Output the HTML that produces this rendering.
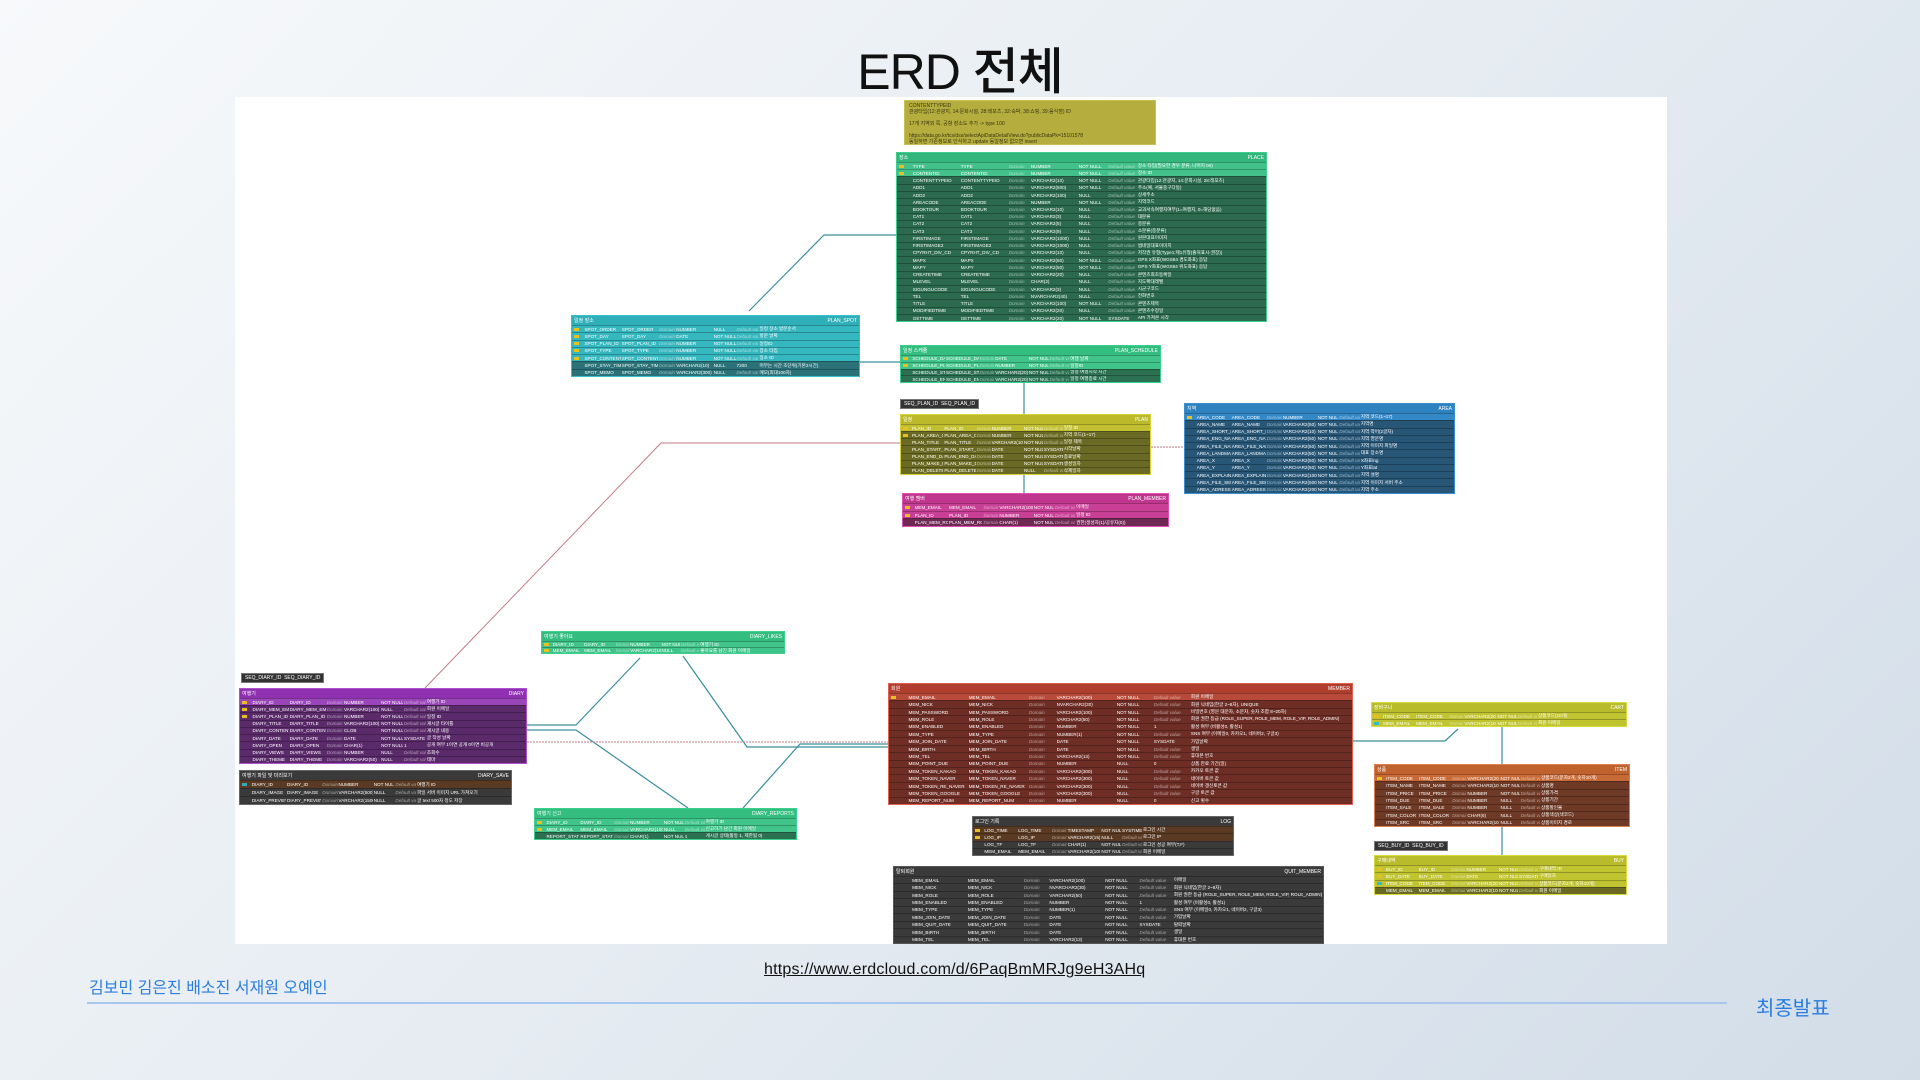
<!DOCTYPE html>
<html><head><meta charset="utf-8">
<style>
*{margin:0;padding:0;box-sizing:border-box}
body{width:1920px;height:1080px;overflow:hidden;position:relative;background:linear-gradient(135deg,#f7f9fb 0%,#e6ecf2 50%,#d2dde8 100%);font-family:"Liberation Sans","Noto Sans CJK KR",sans-serif}
#cv{position:absolute;left:235px;top:97px;width:1432px;height:847px;background:#fff}
.t{position:absolute;display:flex;flex-direction:column;border:1.5px solid;color:#fff;font-size:4.6px;overflow:hidden}
.h{height:9px;display:flex;justify-content:space-between;align-items:center;padding:0 2px;font-size:5px;flex:none}
.r{flex:1;display:grid;grid-template-columns:4% 13% 13% 6% 13% 8% 8% 35%;align-items:center;border-top:1px solid rgba(0,0,0,.25);white-space:nowrap;overflow:hidden}
.r>*{overflow:hidden;padding-left:1px;font-style:normal;font-weight:normal}
.r em{opacity:.5;font-style:italic}
.r i{display:block;width:5px;height:3px;background:#e8c020;margin-left:2px}
.r.n i{background:none}
svg{position:absolute;left:0;top:0}
.lbl{position:absolute;background:#333;color:#fff;font-size:5px;padding:1px 3px;border:1px solid #777}
</style></head><body>
<div id="cv"></div>
<div style="position:absolute;left:0;width:1920px;top:32px;text-align:center;font-size:50px;font-weight:500;color:#111;font-family:'Liberation Sans','Noto Sans CJK KR',sans-serif;letter-spacing:-1px">ERD 전체</div>

<svg width="1920" height="1080" fill="none" stroke-width="1.2">
<g stroke="#3a8f9c">
<polyline points="896,235 824,235 749,311"/>
<polyline points="860,362 900,362"/>
<polyline points="1024,383 1024,414"/>
<polyline points="1024,475 1024,493"/>
<polyline points="527,725 576,725 640,658"/>
<polyline points="527,730 576,730 688,808"/>
<polyline points="683,656 747,747 888,747"/>
<polyline points="743,808 800,744 888,744"/>
<polyline points="1353,741 1445,741 1458,729"/>
<polyline points="1502,727 1502,764"/>
<polyline points="1502,827 1502,855"/>
</g>
<g stroke="#c47a86" stroke-width="1">
<polyline points="900,443 661,443 425,688"/>
<polyline points="1151,447 1184,447" stroke-dasharray="2,1"/>
<polyline points="527,742 888,742" stroke-dasharray="2,1"/>
</g>
</svg>

<div style="position:absolute;left:904px;top:100px;width:252px;height:45px;background:#b5ad3e;border:1px solid #c9c050;color:#3a3510;font-size:5px;line-height:6px;padding:2px 4px">CONTENTTYPEID<br>관광타입(12:관광지, 14:문화시설, 28:레포츠, 32:숙박, 38:쇼핑, 39:음식점) ID<br><br>17개 지역외 쪽, 공항 장소도 추가 -&gt; type 100<br><br>https://data.go.kr/tcs/dss/selectApiDataDetailView.do?publicDataPk=15101578<br>동일하면 기존정보로 인식하고 update 동일정보 없으면 insert</div>

<!-- PLACE -->
<div class="t" style="left:896px;top:152px;width:371px;height:170px;border-color:#3dcf8e;background:#2b6a4d">
<div class="h" style="background:#34b57c"><span>장소</span><span>PLACE</span></div>
<div class="r" style="background:#42c28a"><i></i><b>TYPE</b><b>TYPE</b><em>Domain</em><b>NUMBER</b><b>NOT NULL</b><em>Default value</em><b>장소 타입(필요한 경우 분류, 나머지 00)</b></div>
<div class="r" style="background:#42c28a"><i></i><b>CONTENTID</b><b>CONTENTID</b><em>Domain</em><b>NUMBER</b><b>NOT NULL</b><em>Default value</em><b>장소 ID</b></div>
<div class="r n"><i></i><b>CONTENTTYPEID</b><b>CONTENTTYPEID</b><em>Domain</em><b>VARCHAR2(10)</b><b>NOT NULL</b><em>Default value</em><b>관광타입(12:관광지, 14:문화시설, 28:레포츠)</b></div>
<div class="r n"><i></i><b>ADD1</b><b>ADD1</b><em>Domain</em><b>VARCHAR2(500)</b><b>NOT NULL</b><em>Default value</em><b>주소(예, 서울중구다동)</b></div>
<div class="r n"><i></i><b>ADD2</b><b>ADD2</b><em>Domain</em><b>VARCHAR2(100)</b><b>NULL</b><em>Default value</em><b>상세주소</b></div>
<div class="r n"><i></i><b>AREACODE</b><b>AREACODE</b><em>Domain</em><b>NUMBER</b><b>NOT NULL</b><em>Default value</em><b>지역코드</b></div>
<div class="r n"><i></i><b>BOOKTOUR</b><b>BOOKTOUR</b><em>Domain</em><b>VARCHAR2(10)</b><b>NULL</b><em>Default value</em><b>교과서속여행지여부(1=여행지, 0=해당없음)</b></div>
<div class="r n"><i></i><b>CAT1</b><b>CAT1</b><em>Domain</em><b>VARCHAR2(3)</b><b>NULL</b><em>Default value</em><b>대분류</b></div>
<div class="r n"><i></i><b>CAT2</b><b>CAT2</b><em>Domain</em><b>VARCHAR2(5)</b><b>NULL</b><em>Default value</em><b>중분류</b></div>
<div class="r n"><i></i><b>CAT3</b><b>CAT3</b><em>Domain</em><b>VARCHAR2(9)</b><b>NULL</b><em>Default value</em><b>소분류(중분류)</b></div>
<div class="r n"><i></i><b>FIRSTIMAGE</b><b>FIRSTIMAGE</b><em>Domain</em><b>VARCHAR2(1000)</b><b>NULL</b><em>Default value</em><b>원본대표이미지</b></div>
<div class="r n"><i></i><b>FIRSTIMAGE2</b><b>FIRSTIMAGE2</b><em>Domain</em><b>VARCHAR2(1000)</b><b>NULL</b><em>Default value</em><b>썸네일대표이미지</b></div>
<div class="r n"><i></i><b>CPYRHT_DIV_CD</b><b>CPYRHT_DIV_CD</b><em>Domain</em><b>VARCHAR2(10)</b><b>NULL</b><em>Default value</em><b>저작권 유형(Type1:제1유형(출처표시-권장))</b></div>
<div class="r n"><i></i><b>MAPX</b><b>MAPX</b><em>Domain</em><b>VARCHAR2(50)</b><b>NOT NULL</b><em>Default value</em><b>GPS X좌표(WGS84 경도좌표) 응답</b></div>
<div class="r n"><i></i><b>MAPY</b><b>MAPY</b><em>Domain</em><b>VARCHAR2(50)</b><b>NOT NULL</b><em>Default value</em><b>GPS Y좌표(WGS84 위도좌표) 응답</b></div>
<div class="r n"><i></i><b>CREATETIME</b><b>CREATETIME</b><em>Domain</em><b>VARCHAR2(20)</b><b>NULL</b><em>Default value</em><b>콘텐츠최초등록일</b></div>
<div class="r n"><i></i><b>MLEVEL</b><b>MLEVEL</b><em>Domain</em><b>CHAR(2)</b><b>NULL</b><em>Default value</em><b>지도확대레벨</b></div>
<div class="r n"><i></i><b>SIGUNGUCODE</b><b>SIGUNGUCODE</b><em>Domain</em><b>VARCHAR2(3)</b><b>NULL</b><em>Default value</em><b>시군구코드</b></div>
<div class="r n"><i></i><b>TEL</b><b>TEL</b><em>Domain</em><b>NVARCHAR2(40)</b><b>NULL</b><em>Default value</em><b>전화번호</b></div>
<div class="r n"><i></i><b>TITLE</b><b>TITLE</b><em>Domain</em><b>VARCHAR2(100)</b><b>NOT NULL</b><em>Default value</em><b>콘텐츠제목</b></div>
<div class="r n"><i></i><b>MODIFIEDTIME</b><b>MODIFIEDTIME</b><em>Domain</em><b>VARCHAR2(20)</b><b>NULL</b><em>Default value</em><b>콘텐츠수정일</b></div>
<div class="r n"><i></i><b>GETTIME</b><b>GETTIME</b><em>Domain</em><b>VARCHAR2(20)</b><b>NOT NULL</b><b>SYSDATE</b><b>API 가져온 시각</b></div>
</div>

<!-- PLAN_SPOT -->
<div class="t" style="left:571px;top:315px;width:289px;height:62px;border-color:#36c0c8;background:#2a7278">
<div class="h" style="background:#2fb0b8"><span>일정 장소</span><span>PLAN_SPOT</span></div>
<div class="r" style="background:#35b7bf"><i></i><b>SPOT_ORDER</b><b>SPOT_ORDER</b><em>Domain</em><b>NUMBER</b><b>NULL</b><em>Default value</em><b>일정 장소 방문순서</b></div>
<div class="r" style="background:#35b7bf"><i></i><b>SPOT_DAY</b><b>SPOT_DAY</b><em>Domain</em><b>DATE</b><b>NOT NULL</b><em>Default value</em><b>방문 날짜</b></div>
<div class="r" style="background:#35b7bf"><i></i><b>SPOT_PLAN_ID</b><b>SPOT_PLAN_ID</b><em>Domain</em><b>NUMBER</b><b>NOT NULL</b><em>Default value</em><b>일정ID</b></div>
<div class="r" style="background:#35b7bf"><i></i><b>SPOT_TYPE</b><b>SPOT_TYPE</b><em>Domain</em><b>NUMBER</b><b>NOT NULL</b><em>Default value</em><b>장소 타입</b></div>
<div class="r" style="background:#35b7bf"><i></i><b>SPOT_CONTENTID</b><b>SPOT_CONTENTID</b><em>Domain</em><b>NUMBER</b><b>NOT NULL</b><em>Default value</em><b>장소 ID</b></div>
<div class="r n"><i></i><b>SPOT_STAY_TIME</b><b>SPOT_STAY_TIME</b><em>Domain</em><b>VARCHAR2(10)</b><b>NULL</b><b>7200</b><b>머무는 시간 초단위(기본2시간)</b></div>
<div class="r n"><i></i><b>SPOT_MEMO</b><b>SPOT_MEMO</b><em>Domain</em><b>VARCHAR2(300)</b><b>NULL</b><em>Default value</em><b>메모(최대100자)</b></div>
</div>

<!-- PLAN_SCHEDULE -->
<div class="t" style="left:900px;top:345px;width:261px;height:38px;border-color:#3dcf8e;background:#2b7050">
<div class="h" style="background:#33bd7f"><span>일정 스케쥴</span><span>PLAN_SCHEDULE</span></div>
<div class="r" style="background:#40c48a"><i></i><b>SCHEDULE_DAY</b><b>SCHEDULE_DAY</b><em>Domain</em><b>DATE</b><b>NOT NULL</b><em>Default value</em><b>여행 날짜</b></div>
<div class="r" style="background:#40c48a"><i></i><b>SCHEDULE_PLAN_ID</b><b>SCHEDULE_PLAN_ID</b><em>Domain</em><b>NUMBER</b><b>NOT NULL</b><em>Default value</em><b>일정ID</b></div>
<div class="r n"><i></i><b>SCHEDULE_START</b><b>SCHEDULE_START</b><em>Domain</em><b>VARCHAR2(20)</b><b>NOT NULL</b><em>Default value</em><b>일정 여행시작 시간</b></div>
<div class="r n"><i></i><b>SCHEDULE_END</b><b>SCHEDULE_END</b><em>Domain</em><b>VARCHAR2(20)</b><b>NOT NULL</b><em>Default value</em><b>일정 여행종료 시간</b></div>
</div>

<div class="lbl" style="left:900px;top:399px">SEQ_PLAN_ID &nbsp;SEQ_PLAN_ID</div>

<!-- PLAN -->
<div class="t" style="left:900px;top:414px;width:251px;height:61px;border-color:#d6d43a;background:#6b6a24">
<div class="h" style="background:#bcb92a"><span>일정</span><span>PLAN</span></div>
<div class="r" style="background:#c2c030"><i></i><b>PLAN_ID</b><b>PLAN_ID</b><em>Domain</em><b>NUMBER</b><b>NOT NULL</b><em>Default value</em><b>일정 ID</b></div>
<div class="r"><i></i><b>PLAN_AREA_CODE</b><b>PLAN_AREA_CODE</b><em>Domain</em><b>NUMBER</b><b>NOT NULL</b><em>Default value</em><b>지역 코드(1~17)</b></div>
<div class="r n"><i></i><b>PLAN_TITLE</b><b>PLAN_TITLE</b><em>Domain</em><b>VARCHAR2(100)</b><b>NOT NULL</b><em>Default value</em><b>일정 제목</b></div>
<div class="r n"><i></i><b>PLAN_START_DAY</b><b>PLAN_START_DAY</b><em>Domain</em><b>DATE</b><b>NOT NULL</b><b>SYSDATE</b><b>시작날짜</b></div>
<div class="r n"><i></i><b>PLAN_END_DAY</b><b>PLAN_END_DAY</b><em>Domain</em><b>DATE</b><b>NOT NULL</b><b>SYSDATE</b><b>종료날짜</b></div>
<div class="r n"><i></i><b>PLAN_MAKE_DAY</b><b>PLAN_MAKE_DAY</b><em>Domain</em><b>DATE</b><b>NOT NULL</b><b>SYSDATE</b><b>생성일자</b></div>
<div class="r n"><i></i><b>PLAN_DELETE_DAY</b><b>PLAN_DELETE_DAY</b><em>Domain</em><b>DATE</b><b>NULL</b><em>Default value</em><b>삭제일자</b></div>
</div>

<!-- AREA -->
<div class="t" style="left:1184px;top:403px;width:271px;height:91px;border-color:#3a8fd0;background:#275677">
<div class="h" style="background:#2f82c0"><span>지역</span><span>AREA</span></div>
<div class="r" style="background:#3588c6"><i></i><b>AREA_CODE</b><b>AREA_CODE</b><em>Domain</em><b>NUMBER</b><b>NOT NULL</b><em>Default value</em><b>지역 코드(1~17)</b></div>
<div class="r n"><i></i><b>AREA_NAME</b><b>AREA_NAME</b><em>Domain</em><b>VARCHAR2(50)</b><b>NOT NULL</b><em>Default value</em><b>지역명</b></div>
<div class="r n"><i></i><b>AREA_SHORT_NAME</b><b>AREA_SHORT_NAME</b><em>Domain</em><b>VARCHAR2(10)</b><b>NOT NULL</b><em>Default value</em><b>지역 약어(2글자)</b></div>
<div class="r n"><i></i><b>AREA_ENG_NAME</b><b>AREA_ENG_NAME</b><em>Domain</em><b>VARCHAR2(50)</b><b>NOT NULL</b><em>Default value</em><b>지역 영문명</b></div>
<div class="r n"><i></i><b>AREA_FILE_NAME</b><b>AREA_FILE_NAME</b><em>Domain</em><b>VARCHAR2(50)</b><b>NOT NULL</b><em>Default value</em><b>지역 이미지 파일명</b></div>
<div class="r n"><i></i><b>AREA_LANDMARK</b><b>AREA_LANDMARK</b><em>Domain</em><b>VARCHAR2(50)</b><b>NOT NULL</b><em>Default value</em><b>대표 장소명</b></div>
<div class="r n"><i></i><b>AREA_X</b><b>AREA_X</b><em>Domain</em><b>VARCHAR2(50)</b><b>NOT NULL</b><em>Default value</em><b>X좌표lng</b></div>
<div class="r n"><i></i><b>AREA_Y</b><b>AREA_Y</b><em>Domain</em><b>VARCHAR2(50)</b><b>NOT NULL</b><em>Default value</em><b>Y좌표lat</b></div>
<div class="r n"><i></i><b>AREA_EXPLAIN</b><b>AREA_EXPLAIN</b><em>Domain</em><b>VARCHAR2(1000)</b><b>NOT NULL</b><em>Default value</em><b>지역 설명</b></div>
<div class="r n"><i></i><b>AREA_FILE_SERVER</b><b>AREA_FILE_SERVER</b><em>Domain</em><b>VARCHAR2(500)</b><b>NOT NULL</b><em>Default value</em><b>지역 이미지 서버 주소</b></div>
<div class="r n"><i></i><b>AREA_ADRESS</b><b>AREA_ADRESS</b><em>Domain</em><b>VARCHAR2(200)</b><b>NOT NULL</b><em>Default value</em><b>지역 주소</b></div>
</div>

<!-- PLAN_MEMBER -->
<div class="t" style="left:902px;top:493px;width:267px;height:34px;border-color:#e050b0;background:#6e2a55">
<div class="h" style="background:#c0368f"><span>여행 멤버</span><span>PLAN_MEMBER</span></div>
<div class="r" style="background:#c83f96"><i></i><b>MEM_EMAIL</b><b>MEM_EMAIL</b><em>Domain</em><b>VARCHAR2(100)</b><b>NOT NULL</b><em>Default value</em><b>이메일</b></div>
<div class="r" style="background:#c83f96"><i></i><b>PLAN_ID</b><b>PLAN_ID</b><em>Domain</em><b>NUMBER</b><b>NOT NULL</b><em>Default value</em><b>일정 ID</b></div>
<div class="r n"><i></i><b>PLAN_MEM_ROLE</b><b>PLAN_MEM_ROLE</b><em>Domain</em><b>CHAR(1)</b><b>NOT NULL</b><em>Default value</em><b>권한(생성자(1)/공유자(0))</b></div>
</div>

<!-- DIARY_LIKES -->
<div class="t" style="left:541px;top:631px;width:244px;height:23px;border-color:#3dcf8e;background:#2b7050">
<div class="h" style="background:#33bd7f"><span>여행기 좋아요</span><span>DIARY_LIKES</span></div>
<div class="r" style="background:#40c48a"><i></i><b>DIARY_ID</b><b>DIARY_ID</b><em>Domain</em><b>NUMBER</b><b>NOT NULL</b><em>Default value</em><b>여행기 ID</b></div>
<div class="r" style="background:#40c48a"><i></i><b>MEM_EMAIL</b><b>MEM_EMAIL</b><em>Domain</em><b>VARCHAR2(100)</b><b>NULL</b><em>Default value</em><b>좋아요를 남긴 회원 이메일</b></div>
</div>

<div class="lbl" style="left:241px;top:673px">SEQ_DIARY_ID &nbsp;SEQ_DIARY_ID</div>

<!-- DIARY -->
<div class="t" style="left:239px;top:688px;width:288px;height:76px;border-color:#b050d0;background:#5a2a6a">
<div class="h" style="background:#8f30b0"><span>여행기</span><span>DIARY</span></div>
<div class="r" style="background:#9a45b8"><i></i><b>DIARY_ID</b><b>DIARY_ID</b><em>Domain</em><b>NUMBER</b><b>NOT NULL</b><em>Default value</em><b>여행기 ID</b></div>
<div class="r"><i></i><b>DIARY_MEM_EMAIL</b><b>DIARY_MEM_EMAIL</b><em>Domain</em><b>VARCHAR2(100)</b><b>NULL</b><em>Default value</em><b>회원 이메일</b></div>
<div class="r"><i></i><b>DIARY_PLAN_ID</b><b>DIARY_PLAN_ID</b><em>Domain</em><b>NUMBER</b><b>NOT NULL</b><em>Default value</em><b>일정 ID</b></div>
<div class="r n"><i></i><b>DIARY_TITLE</b><b>DIARY_TITLE</b><em>Domain</em><b>VARCHAR2(100)</b><b>NOT NULL</b><em>Default value</em><b>게시글 타이틀</b></div>
<div class="r n"><i></i><b>DIARY_CONTENT</b><b>DIARY_CONTENT</b><em>Domain</em><b>CLOB</b><b>NOT NULL</b><em>Default value</em><b>게시글 내용</b></div>
<div class="r n"><i></i><b>DIARY_DATE</b><b>DIARY_DATE</b><em>Domain</em><b>DATE</b><b>NOT NULL</b><b>SYSDATE</b><b>글 작성 날짜</b></div>
<div class="r n"><i></i><b>DIARY_OPEN</b><b>DIARY_OPEN</b><em>Domain</em><b>CHAR(1)</b><b>NOT NULL</b><b>1</b><b>공개 여부 1이면 공개 0이면 비공개</b></div>
<div class="r n"><i></i><b>DIARY_VIEWS</b><b>DIARY_VIEWS</b><em>Domain</em><b>NUMBER</b><b>NULL</b><em>Default value</em><b>조회수</b></div>
<div class="r n"><i></i><b>DIARY_THEME</b><b>DIARY_THEME</b><em>Domain</em><b>VARCHAR2(50)</b><b>NULL</b><em>Default value</em><b>테마</b></div>
</div>

<!-- DIARY_SAVE -->
<div class="t" style="left:239px;top:770px;width:273px;height:35px;border-color:#666;background:#3a3a3a">
<div class="h" style="background:#3a3a3a"><span>여행기 파일 및 미리보기</span><span>DIARY_SAVE</span></div>
<div class="r" style="background:#5a3a22"><i style="background:#3ab"></i><b>DIARY_ID</b><b>DIARY_ID</b><em>Domain</em><b>NUMBER</b><b>NOT NULL</b><em>Default value</em><b>여행기 ID</b></div>
<div class="r n"><i></i><b>DIARY_IMAGE</b><b>DIARY_IMAGE</b><em>Domain</em><b>VARCHAR2(500)</b><b>NULL</b><em>Default value</em><b>파일 서버 이미지 URL 가져오기</b></div>
<div class="r n"><i></i><b>DIARY_PREVIEW</b><b>DIARY_PREVIEW</b><em>Domain</em><b>VARCHAR2(1500)</b><b>NULL</b><em>Default value</em><b>글 text 500자 정도 저장</b></div>
</div>

<!-- DIARY_REPORTS -->
<div class="t" style="left:534px;top:808px;width:263px;height:32px;border-color:#3dcf8e;background:#2b7050">
<div class="h" style="background:#33bd7f"><span>여행기 신고</span><span>DIARY_REPORTS</span></div>
<div class="r" style="background:#40c48a"><i></i><b>DIARY_ID</b><b>DIARY_ID</b><em>Domain</em><b>NUMBER</b><b>NOT NULL</b><em>Default value</em><b>여행기 ID</b></div>
<div class="r" style="background:#40c48a"><i></i><b>MEM_EMAIL</b><b>MEM_EMAIL</b><em>Domain</em><b>VARCHAR2(100)</b><b>NULL</b><em>Default value</em><b>신고하기 남긴 회원 이메일</b></div>
<div class="r n"><i></i><b>REPORT_STATE</b><b>REPORT_STATE</b><em>Domain</em><b>CHAR(1)</b><b>NOT NULL</b><b>1</b><b>게시글 상태(활동 1, 제한됨 0)</b></div>
</div>

<!-- MEMBER -->
<div class="t" style="left:888px;top:683px;width:465px;height:122px;border-color:#e06050;background:#6e2e26">
<div class="h" style="background:#b03e2e"><span>회원</span><span>MEMBER</span></div>
<div class="r" style="background:#b84a3a"><i></i><b>MEM_EMAIL</b><b>MEM_EMAIL</b><em>Domain</em><b>VARCHAR2(100)</b><b>NOT NULL</b><em>Default value</em><b>회원 이메일</b></div>
<div class="r n"><i></i><b>MEM_NICK</b><b>MEM_NICK</b><em>Domain</em><b>NVARCHAR2(30)</b><b>NOT NULL</b><em>Default value</em><b>회원 닉네임(한글 2~8자), UNIQUE</b></div>
<div class="r n"><i></i><b>MEM_PASSWORD</b><b>MEM_PASSWORD</b><em>Domain</em><b>VARCHAR2(100)</b><b>NOT NULL</b><em>Default value</em><b>비밀번호 (영문 대문자, 소문자, 숫자 조합 8~20자)</b></div>
<div class="r n"><i></i><b>MEM_ROLE</b><b>MEM_ROLE</b><em>Domain</em><b>VARCHAR2(50)</b><b>NOT NULL</b><em>Default value</em><b>회원 권한 등급 (ROLE_SUPER, ROLE_MEM, ROLE_VIP, ROLE_ADMIN)</b></div>
<div class="r n"><i></i><b>MEM_ENABLED</b><b>MEM_ENABLED</b><em>Domain</em><b>NUMBER</b><b>NOT NULL</b><b>1</b><b>활성 여부 (비활성0, 활성1)</b></div>
<div class="r n"><i></i><b>MEM_TYPE</b><b>MEM_TYPE</b><em>Domain</em><b>NUMBER(1)</b><b>NOT NULL</b><em>Default value</em><b>SNS 여부 (이메일0, 카카오1, 네이버2, 구글3)</b></div>
<div class="r n"><i></i><b>MEM_JOIN_DATE</b><b>MEM_JOIN_DATE</b><em>Domain</em><b>DATE</b><b>NOT NULL</b><b>SYSDATE</b><b>가입날짜</b></div>
<div class="r n"><i></i><b>MEM_BIRTH</b><b>MEM_BIRTH</b><em>Domain</em><b>DATE</b><b>NOT NULL</b><em>Default value</em><b>생일</b></div>
<div class="r n"><i></i><b>MEM_TEL</b><b>MEM_TEL</b><em>Domain</em><b>VARCHAR2(13)</b><b>NOT NULL</b><em>Default value</em><b>휴대폰 번호</b></div>
<div class="r n"><i></i><b>MEM_POINT_DUE</b><b>MEM_POINT_DUE</b><em>Domain</em><b>NUMBER</b><b>NULL</b><b>0</b><b>상품 만료 기간(일)</b></div>
<div class="r n"><i></i><b>MEM_TOKEN_KAKAO</b><b>MEM_TOKEN_KAKAO</b><em>Domain</em><b>VARCHAR2(300)</b><b>NULL</b><em>Default value</em><b>카카오 토큰 값</b></div>
<div class="r n"><i></i><b>MEM_TOKEN_NAVER</b><b>MEM_TOKEN_NAVER</b><em>Domain</em><b>VARCHAR2(300)</b><b>NULL</b><em>Default value</em><b>네이버 토큰 값</b></div>
<div class="r n"><i></i><b>MEM_TOKEN_RE_NAVER</b><b>MEM_TOKEN_RE_NAVER</b><em>Domain</em><b>VARCHAR2(300)</b><b>NULL</b><em>Default value</em><b>네이버 갱신토큰 값</b></div>
<div class="r n"><i></i><b>MEM_TOKEN_GOOGLE</b><b>MEM_TOKEN_GOOGLE</b><em>Domain</em><b>VARCHAR2(300)</b><b>NULL</b><em>Default value</em><b>구글 토큰 값</b></div>
<div class="r n"><i></i><b>MEM_REPORT_NUM</b><b>MEM_REPORT_NUM</b><em>Domain</em><b>NUMBER</b><b>NULL</b><b>0</b><b>신고 횟수</b></div>
</div>

<!-- LOG -->
<div class="t" style="left:972px;top:816px;width:262px;height:40px;border-color:#666;background:#3a3a3a">
<div class="h" style="background:#3a3a3a"><span>로그인 기록</span><span>LOG</span></div>
<div class="r" style="background:#5a3a22"><i></i><b>LOG_TIME</b><b>LOG_TIME</b><em>Domain</em><b>TIMESTAMP</b><b>NOT NULL</b><b>SYSTIMESTAMP</b><b>로그인 시간</b></div>
<div class="r" style="background:#5a3a22"><i></i><b>LOG_IP</b><b>LOG_IP</b><em>Domain</em><b>VARCHAR2(15)</b><b>NULL</b><em>Default value</em><b>로그인 IP</b></div>
<div class="r n"><i></i><b>LOG_TF</b><b>LOG_TF</b><em>Domain</em><b>CHAR(1)</b><b>NOT NULL</b><em>Default value</em><b>로그인 성공 여부(T,F)</b></div>
<div class="r n"><i></i><b>MEM_EMAIL</b><b>MEM_EMAIL</b><em>Domain</em><b>VARCHAR2(100)</b><b>NOT NULL</b><em>Default value</em><b>회원 이메일</b></div>
</div>

<!-- QUIT_MEMBER -->
<div class="t" style="left:893px;top:866px;width:431px;height:78px;border-color:#555;background:#3a3a3a">
<div class="h" style="background:#3a3a3a"><span>탈퇴회원</span><span>QUIT_MEMBER</span></div>
<div class="r n"><i></i><b>MEM_EMAIL</b><b>MEM_EMAIL</b><em>Domain</em><b>VARCHAR2(100)</b><b>NOT NULL</b><em>Default value</em><b>이메일</b></div>
<div class="r n"><i></i><b>MEM_NICK</b><b>MEM_NICK</b><em>Domain</em><b>NVARCHAR2(30)</b><b>NOT NULL</b><em>Default value</em><b>회원 닉네임(한글 2~8자)</b></div>
<div class="r n"><i></i><b>MEM_ROLE</b><b>MEM_ROLE</b><em>Domain</em><b>VARCHAR2(50)</b><b>NOT NULL</b><em>Default value</em><b>회원 권한 등급 (ROLE_SUPER, ROLE_MEM, ROLE_VIP, ROLE_ADMIN)</b></div>
<div class="r n"><i></i><b>MEM_ENABLED</b><b>MEM_ENABLED</b><em>Domain</em><b>NUMBER</b><b>NOT NULL</b><b>1</b><b>활성 여부 (비활성0, 활성1)</b></div>
<div class="r n"><i></i><b>MEM_TYPE</b><b>MEM_TYPE</b><em>Domain</em><b>NUMBER(1)</b><b>NOT NULL</b><em>Default value</em><b>SNS 여부 (이메일0, 카카오1, 네이버2, 구글3)</b></div>
<div class="r n"><i></i><b>MEM_JOIN_DATE</b><b>MEM_JOIN_DATE</b><em>Domain</em><b>DATE</b><b>NOT NULL</b><em>Default value</em><b>가입날짜</b></div>
<div class="r n"><i></i><b>MEM_QUIT_DATE</b><b>MEM_QUIT_DATE</b><em>Domain</em><b>DATE</b><b>NOT NULL</b><b>SYSDATE</b><b>탈퇴날짜</b></div>
<div class="r n"><i></i><b>MEM_BIRTH</b><b>MEM_BIRTH</b><em>Domain</em><b>DATE</b><b>NOT NULL</b><em>Default value</em><b>생일</b></div>
<div class="r n"><i></i><b>MEM_TEL</b><b>MEM_TEL</b><em>Domain</em><b>VARCHAR2(13)</b><b>NOT NULL</b><em>Default value</em><b>휴대폰 번호</b></div>
</div>

<!-- CART -->
<div class="t" style="left:1371px;top:702px;width:256px;height:25px;border-color:#d8dc40;background:#6b6a24">
<div class="h" style="background:#b8bc2a"><span>장바구니</span><span>CART</span></div>
<div class="r" style="background:#c0c430"><i></i><b>ITEM_CODE</b><b>ITEM_CODE</b><em>Domain</em><b>VARCHAR2(20)</b><b>NOT NULL</b><em>Default value</em><b>상품코드(10개)</b></div>
<div class="r" style="background:#c0c430"><i style="background:#3bc"></i><b>MEM_EMAIL</b><b>MEM_EMAIL</b><em>Domain</em><b>VARCHAR2(100)</b><b>NOT NULL</b><em>Default value</em><b>회원 이메일</b></div>
</div>

<!-- ITEM -->
<div class="t" style="left:1374px;top:764px;width:256px;height:63px;border-color:#e08050;background:#6e3a26">
<div class="h" style="background:#c0622e"><span>상품</span><span>ITEM</span></div>
<div class="r" style="background:#c86a36"><i></i><b>ITEM_CODE</b><b>ITEM_CODE</b><em>Domain</em><b>VARCHAR2(20)</b><b>NOT NULL</b><em>Default value</em><b>상품코드(문자2개, 숫자10개)</b></div>
<div class="r n"><i></i><b>ITEM_NAME</b><b>ITEM_NAME</b><em>Domain</em><b>VARCHAR2(100)</b><b>NOT NULL</b><em>Default value</em><b>상품명</b></div>
<div class="r n"><i></i><b>ITEM_PRICE</b><b>ITEM_PRICE</b><em>Domain</em><b>NUMBER</b><b>NOT NULL</b><em>Default value</em><b>상품가격</b></div>
<div class="r n"><i></i><b>ITEM_DUE</b><b>ITEM_DUE</b><em>Domain</em><b>NUMBER</b><b>NULL</b><em>Default value</em><b>상품기간</b></div>
<div class="r n"><i></i><b>ITEM_SALE</b><b>ITEM_SALE</b><em>Domain</em><b>NUMBER</b><b>NULL</b><em>Default value</em><b>상품할인율</b></div>
<div class="r n"><i></i><b>ITEM_COLOR</b><b>ITEM_COLOR</b><em>Domain</em><b>CHAR(6)</b><b>NULL</b><em>Default value</em><b>상품색상(색코드)</b></div>
<div class="r n"><i></i><b>ITEM_SRC</b><b>ITEM_SRC</b><em>Domain</em><b>VARCHAR2(100)</b><b>NULL</b><em>Default value</em><b>상품이미지 경로</b></div>
</div>

<div class="lbl" style="left:1374px;top:841px">SEQ_BUY_ID &nbsp;SEQ_BUY_ID</div>

<!-- BUY -->
<div class="t" style="left:1374px;top:855px;width:253px;height:40px;border-color:#d8dc40;background:#6b6a24">
<div class="h" style="background:#b8bc2a"><span>구매내역</span><span>BUY</span></div>
<div class="r" style="background:#c0c430"><i></i><b>BUY_ID</b><b>BUY_ID</b><em>Domain</em><b>NUMBER</b><b>NOT NULL</b><em>Default value</em><b>구매내역 ID</b></div>
<div class="r" style="background:#c0c430"><i></i><b>BUY_DATE</b><b>BUY_DATE</b><em>Domain</em><b>DATE</b><b>NOT NULL</b><b>SYSDATE</b><b>구매일자</b></div>
<div class="r" style="background:#c0c430"><i style="background:#3bc"></i><b>ITEM_CODE</b><b>ITEM_CODE</b><em>Domain</em><b>VARCHAR2(20)</b><b>NOT NULL</b><em>Default value</em><b>상품코드(문자2개, 숫자10개)</b></div>
<div class="r n"><i></i><b>MEM_EMAIL</b><b>MEM_EMAIL</b><em>Domain</em><b>VARCHAR2(100)</b><b>NOT NULL</b><em>Default value</em><b>회원 이메일</b></div>
</div>

<!-- footer -->
<div style="position:absolute;left:764px;top:961px;font-size:16px;color:#111;text-decoration:underline;letter-spacing:0.2px">https://www.erdcloud.com/d/6PaqBmMRJg9eH3AHq</div>
<div style="position:absolute;left:89px;top:974px;font-size:16px;color:#2a7de1">김보민 김은진 배소진 서재원 오예인</div>
<div style="position:absolute;left:87px;top:1002px;width:1640px;height:2px;background:#a9c6ee"></div>
<div style="position:absolute;left:1756px;top:992px;font-size:20px;color:#2a7de1">최종발표</div>
</body></html>
